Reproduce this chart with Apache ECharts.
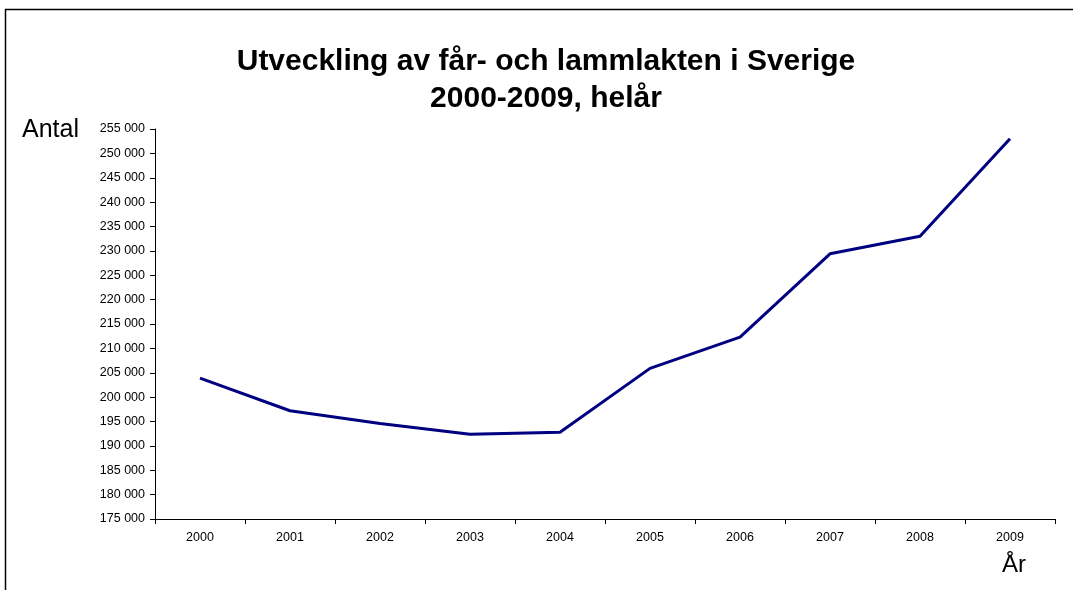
<!DOCTYPE html>
<html>
<head>
<meta charset="utf-8">
<script src="https://cdn.jsdelivr.net/npm/echarts@6/dist/echarts.min.js"></script>
<style>html,body{margin:0;padding:0;background:#fff}#c{width:1073px;height:590px}</style>
</head>
<body>
<div id="c"></div>
<script>
const years = ['2000','2001','2002','2003','2004','2005','2006','2007','2008','2009'];
const slaughter = [203900, 197200, 194600, 192400, 192800, 205900, 212300, 229400, 233000, 253000];
const yMin = 175000, yMax = 255000, yStep = 5000;
const titleText = 'Utveckling av får- och lammlakten i Sverige\n2000-2009, helår';
const yName = 'Antal';
const xName = 'År';

const FONT = '"Liberation Sans", Arial, sans-serif';
const chart = echarts.init(document.getElementById('c'), null, {renderer: 'canvas'});
chart.setOption({
  backgroundColor: '#fff',
  animation: false,
  title: {
    text: titleText,
    left: 541, top: 38, textAlign: 'center',
    textStyle: {fontFamily: FONT, fontSize: 30, fontWeight: 'bold', color: '#000', lineHeight: 37}
  },
  grid: {left: 155, right: 18, top: 129, bottom: 71, containLabel: false},
  xAxis: {
    type: 'category', data: years, boundaryGap: true,
    axisLine: {lineStyle: {color: '#000', width: 1}},
    axisTick: {show: true, inside: false, length: 5, alignWithLabel: false, lineStyle: {color: '#000'}},
    axisLabel: {fontFamily: FONT, fontSize: 12.5, color: '#000', margin: 12},
    splitLine: {show: false}
  },
  yAxis: {
    type: 'value', min: yMin, max: yMax, interval: yStep,
    axisLine: {show: true, lineStyle: {color: '#000', width: 1}},
    axisTick: {show: true, length: 5, lineStyle: {color: '#000'}},
    axisLabel: {fontFamily: FONT, fontSize: 12.5, color: '#000', margin: 10,
      formatter: v => String(v).replace(/\B(?=(\d{3})+(?!\d))/g, ' ')},
    splitLine: {show: false}
  },
  series: [{
    type: 'line', data: slaughter, symbol: 'none',
    lineStyle: {color: '#000080', width: 3},
    itemStyle: {color: '#000080'}
  }],
  graphic: [
    {type: 'line', shape: {x1: 5.5, y1: 9, x2: 5.5, y2: 600}, style: {stroke: '#000', lineWidth: 1.5}},
    {type: 'line', shape: {x1: 5, y1: 9.5, x2: 1073, y2: 9.5}, style: {stroke: '#000', lineWidth: 1.5}},
    {type: 'text', left: 22, top: 118, style: {text: yName, font: '25px ' + FONT, fill: '#000'}},
    {type: 'text', left: 1002, top: 553, style: {text: xName, font: '24px ' + FONT, fill: '#000'}}
  ]
});
</script>
</body>
</html>
